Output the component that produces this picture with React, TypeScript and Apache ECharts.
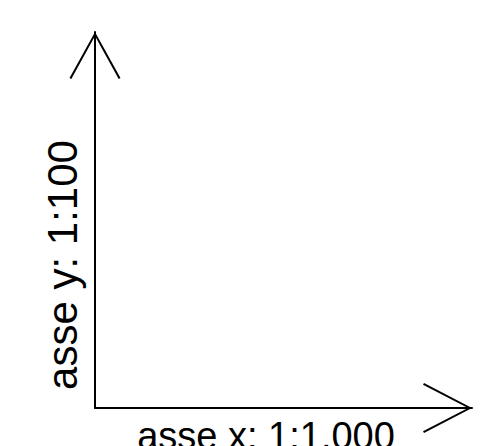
import React, { useEffect, useRef } from "react";
import * as echarts from "echarts";

// Diagram content: two scale axes with their labels
const xAxisName = "asse x: 1:1.000";
const yAxisName = "asse y: 1:100";
const xExtent = [0, 1000];
const yExtent = [0, 100];

const FONT = "'Liberation Sans', Arial, Helvetica, sans-serif";

// open chevron arrow head (pointing up, like the built-in 'arrow'), as a thin closed outline
const chevron = (w: number, h: number) =>
  `path://M${w / 2},0 L${w},${h - 1} L${w - 1.8},${h} L${w / 2},4 L1.8,${h} L0,${h - 1} Z`;

export default function App() {
  const ref = useRef<HTMLDivElement>(null);

  useEffect(() => {
    if (!ref.current) return;
    const chart = echarts.init(ref.current, null, { renderer: "svg" });
    chart.setOption({
      animation: false,
      backgroundColor: "#ffffff",
      grid: {
        left: 95,
        right: 23,
        top: 32,
        bottom: 38,
        containLabel: false,
        outerBoundsMode: "none",
      },
      xAxis: {
        type: "value",
        min: xExtent[0],
        max: xExtent[1],
        name: xAxisName,
        nameLocation: "middle",
        nameGap: 9,
        nameTextStyle: { fontSize: 38, fontFamily: FONT, color: "#000", padding: [0, 35, 0, 0] },
        axisLine: {
          show: true,
          onZero: false,
          symbol: ["none", chevron(50, 49)],
          symbolSize: [50, 49],
          symbolOffset: [0, -24.5],
          lineStyle: { color: "#000", width: 2 },
        },
        axisTick: { show: false },
        axisLabel: { show: false },
        splitLine: { show: false },
      },
      yAxis: {
        type: "value",
        min: yExtent[0],
        max: yExtent[1],
        name: yAxisName,
        nameLocation: "middle",
        nameGap: 12,
        nameTextStyle: { fontSize: 42, fontFamily: FONT, color: "#000", padding: [0, 90, 0, 0] },
        axisLine: {
          show: true,
          onZero: false,
          symbol: ["none", chevron(51, 47)],
          symbolSize: [51, 47],
          symbolOffset: [0, -23.5],
          lineStyle: { color: "#000", width: 2 },
        },
        axisTick: { show: false },
        axisLabel: { show: false },
        splitLine: { show: false },
      },
      series: [{ type: "scatter", data: [] }],
    });
    return () => chart.dispose();
  }, []);

  return (
    <div
      ref={ref}
      style={{ position: "fixed", left: 0, top: 0, width: 495, height: 446, background: "#fff" }}
    />
  );
}
